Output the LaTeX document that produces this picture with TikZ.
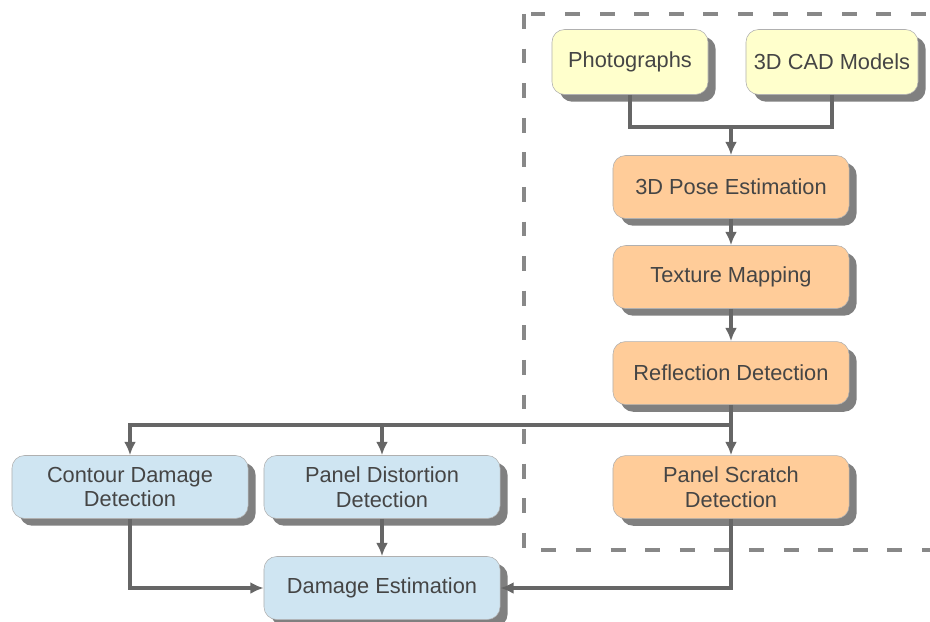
\documentclass[tikz,border=0pt]{standalone}
\usepackage{fontspec}
\setmainfont{Liberation Sans}
\usetikzlibrary{positioning, arrows.meta, shadows}

\definecolor{boxyellow}{HTML}{FFFFCC}
\definecolor{boxorange}{HTML}{FFCC99}
\definecolor{boxblue}{HTML}{CFE5F2}
\definecolor{boxborder}{HTML}{B0B0B0}
\definecolor{textgray}{HTML}{454545}
\definecolor{linegray}{HTML}{666666}
\definecolor{framegray}{HTML}{888888}

\begin{document}
\begin{tikzpicture}[x=0.025cm, y=-0.025cm, node distance=2.25cm, >={Latex[length=9.5pt,width=8.5pt]}]
    % stili
    \tikzstyle{box} = [draw=boxborder, thin, rectangle, rounded corners=9pt, minimum height=1.575cm, text=textgray, font=\fontsize{15.5}{17.5}\selectfont, align=center, drop shadow={shadow xshift=0.19cm, shadow yshift=-0.18cm, fill=black!50, opacity=1}]
    \tikzstyle{source} = [box, fill=boxyellow, minimum height=1.625cm]
    \tikzstyle{stage} = [box, fill=boxorange, minimum width=5.9cm]
    \tikzstyle{detect} = [box, fill=boxblue, minimum width=5.9cm]
    \tikzstyle{link} = [draw=linegray, line width=2.7pt]
    \tikzstyle{frame} = [draw=framegray, line width=2.8pt, dash pattern=on 10.6pt off 14pt]

    \useasboundingbox (0,0) rectangle (930,622);

    % riquadro tratteggiato
    \draw[frame] (524,14) rectangle (950,550);

    % Nodi
    \node[source, minimum width=3.9cm] (photo) at (630,62) {Photographs};
    \node[source, minimum width=4.3cm] (cad) at (832,62) {3D CAD Models};
    \node[stage] (pose) at (731,187) {3D Pose Estimation};
    \node[stage, below of=pose] (texture) {Texture Mapping};
    \node[stage, below of=texture, node distance=2.4cm] (refl) {Reflection Detection};
    \node[stage, below of=refl, node distance=2.85cm] (scratch) {Panel Scratch\\Detection};
    \node[detect] (contour) at (130,487) {Contour Damage\\Detection};
    \node[detect] (distortion) at (382,487) {Panel Distortion\\Detection};
    \node[detect, below of=distortion, node distance=2.525cm] (damage) {Damage Estimation};

    \coordinate (merge) at (731,127);
    \coordinate (split) at (731,425);

    % Collegamenti
    \draw[link] (photo.south) |- (merge);
    \draw[link] (cad.south) |- (merge);
    \draw[link, ->] (merge) -- (pose);
    \draw[link, ->] (pose) -- (texture);
    \draw[link, ->] (texture) -- (refl);
    \draw[link] (refl) -- (split);
    \draw[link, ->] (split) -- (scratch);
    \draw[link, ->] (split) -| (contour);
    \draw[link, ->] (split) -| (distortion);
    \draw[link, ->] (contour) |- (damage);
    \draw[link, ->] (distortion) -- (damage);
    \draw[link, ->] (scratch) |- (damage);

\end{tikzpicture}
\end{document}
